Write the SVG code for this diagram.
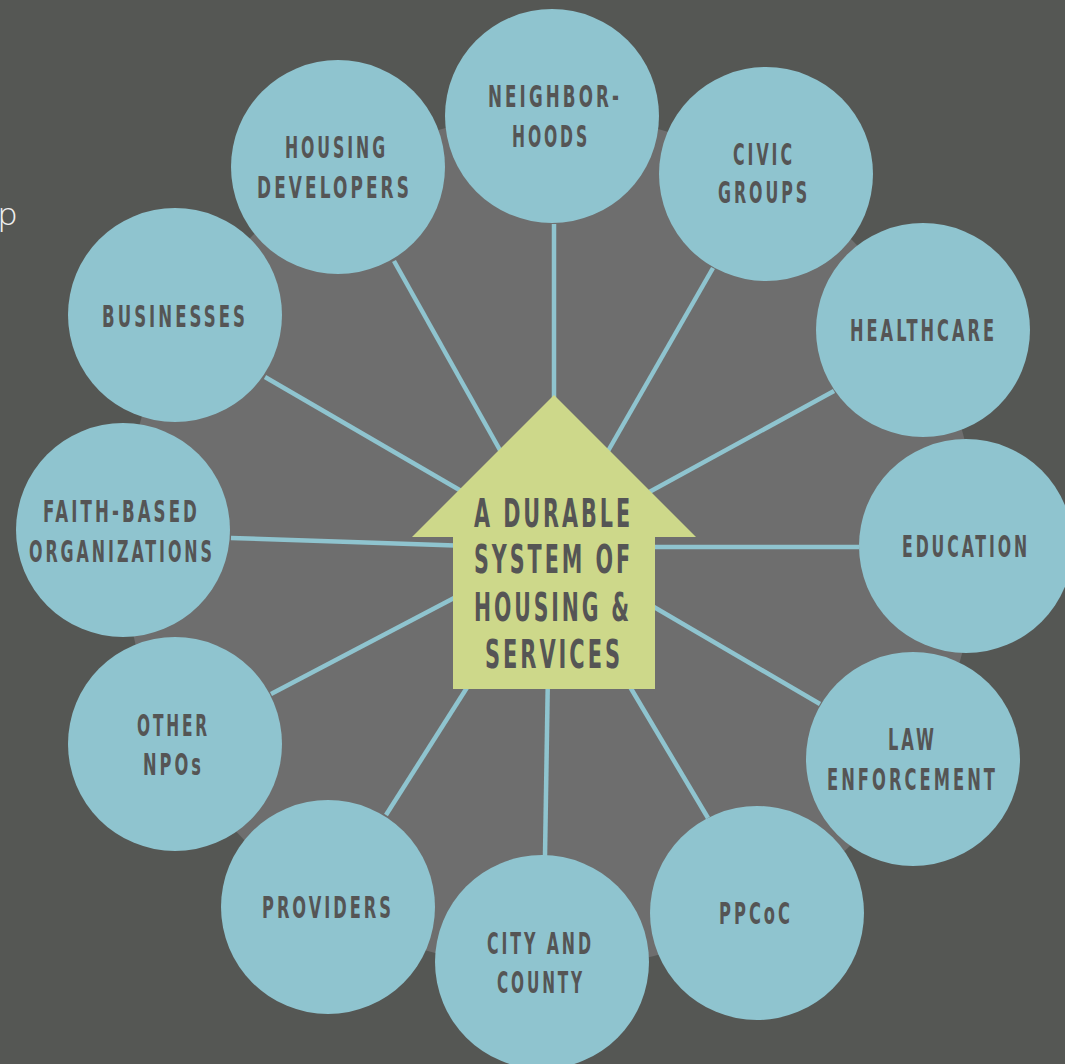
<svg xmlns="http://www.w3.org/2000/svg" width="1065" height="1064" viewBox="0 0 1065 1064">
<style>
.node circle{fill:#8fc4cf}
.lbl{font-family:"DejaVu Sans Condensed","DejaVu Sans",sans-serif;font-weight:bold;font-size:30px;letter-spacing:5px;fill:#555555;text-anchor:middle}
.hlbl{font-family:"DejaVu Sans Condensed","DejaVu Sans",sans-serif;font-weight:bold;font-size:39px;letter-spacing:5px;fill:#555555;text-anchor:middle}
#connectors line{stroke:#8fc4cf;stroke-width:4.5;stroke-linecap:butt}
</style>
<rect width="1065" height="1064" fill="#555754"/>
<circle cx="550" cy="542" r="427" fill="#6e6e6e"/>
<text x="-2" y="225" font-family="'Open Sans','DejaVu Sans',sans-serif" font-weight="300" font-size="32" fill="#eeeeee">p</text>
<g id="connectors">
<line x1="554" y1="224" x2="554" y2="420"/>
<line x1="713" y1="268" x2="600" y2="465"/>
<line x1="834" y1="391" x2="620" y2="508"/>
<line x1="859" y1="547" x2="630" y2="547"/>
<line x1="820" y1="704" x2="630" y2="593"/>
<line x1="708" y1="818" x2="620" y2="670"/>
<line x1="545" y1="856" x2="548" y2="670"/>
<line x1="386" y1="815" x2="475" y2="675"/>
<line x1="271" y1="694" x2="475" y2="587"/>
<line x1="231" y1="538" x2="470" y2="546"/>
<line x1="265" y1="377" x2="475" y2="499"/>
<line x1="394" y1="261" x2="510" y2="468"/>
</g>
<g id="node-neighborhoods" class="node"><circle cx="552" cy="116" r="107"/>
<text class="lbl" transform="scale(0.68 1)" x="816.18" y="107" textLength="197.06" lengthAdjust="spacingAndGlyphs">NEIGHBOR-</text>
<text class="lbl" transform="scale(0.68 1)" x="810.29" y="147" textLength="114.71" lengthAdjust="spacingAndGlyphs">HOODS</text></g>
<g id="node-civic-groups" class="node"><circle cx="766" cy="174" r="107"/>
<text class="lbl" transform="scale(0.68 1)" x="1123.53" y="165" textLength="91.18" lengthAdjust="spacingAndGlyphs">CIVIC</text>
<text class="lbl" transform="scale(0.68 1)" x="1123.53" y="203" textLength="135.29" lengthAdjust="spacingAndGlyphs">GROUPS</text></g>
<g id="node-healthcare" class="node"><circle cx="923" cy="330" r="107"/>
<text class="lbl" transform="scale(0.68 1)" x="1358.09" y="341" textLength="216.18" lengthAdjust="spacingAndGlyphs">HEALTHCARE</text></g>
<g id="node-education" class="node"><circle cx="966" cy="546" r="107"/>
<text class="lbl" transform="scale(0.68 1)" x="1420.59" y="557" textLength="188.24" lengthAdjust="spacingAndGlyphs">EDUCATION</text></g>
<g id="node-law-enforcement" class="node"><circle cx="913" cy="759" r="107"/>
<text class="lbl" transform="scale(0.68 1)" x="1341.91" y="750" textLength="72.06" lengthAdjust="spacingAndGlyphs">LAW</text>
<text class="lbl" transform="scale(0.68 1)" x="1341.91" y="790" textLength="251.47" lengthAdjust="spacingAndGlyphs">ENFORCEMENT</text></g>
<g id="node-ppcoc" class="node"><circle cx="757" cy="913" r="107"/>
<text class="lbl" transform="scale(0.68 1)" x="1111.76" y="924" textLength="108.82" lengthAdjust="spacingAndGlyphs">PPCoC</text></g>
<g id="node-city-county" class="node"><circle cx="542" cy="962" r="107"/>
<text class="lbl" transform="scale(0.68 1)" x="794.85" y="954" textLength="157.35" lengthAdjust="spacingAndGlyphs">CITY AND</text>
<text class="lbl" transform="scale(0.68 1)" x="795.59" y="993" textLength="129.41" lengthAdjust="spacingAndGlyphs">COUNTY</text></g>
<g id="node-providers" class="node"><circle cx="328" cy="907" r="107"/>
<text class="lbl" transform="scale(0.68 1)" x="482.35" y="918" textLength="194.12" lengthAdjust="spacingAndGlyphs">PROVIDERS</text></g>
<g id="node-other-npos" class="node"><circle cx="175" cy="744" r="107"/>
<text class="lbl" transform="scale(0.68 1)" x="255.15" y="736" textLength="107.35" lengthAdjust="spacingAndGlyphs">OTHER</text>
<text class="lbl" transform="scale(0.68 1)" x="255.15" y="775" textLength="89.71" lengthAdjust="spacingAndGlyphs">NPOs</text></g>
<g id="node-faith-based" class="node"><circle cx="123" cy="530" r="107"/>
<text class="lbl" transform="scale(0.68 1)" x="178.68" y="522" textLength="230.88" lengthAdjust="spacingAndGlyphs">FAITH-BASED</text>
<text class="lbl" transform="scale(0.68 1)" x="179.41" y="562" textLength="273.53" lengthAdjust="spacingAndGlyphs">ORGANIZATIONS</text></g>
<g id="node-businesses" class="node"><circle cx="175" cy="315" r="107"/>
<text class="lbl" transform="scale(0.68 1)" x="257.35" y="327" textLength="214.71" lengthAdjust="spacingAndGlyphs">BUSINESSES</text></g>
<g id="node-housing-developers" class="node"><circle cx="338" cy="167" r="107"/>
<text class="lbl" transform="scale(0.68 1)" x="494.85" y="158" textLength="151.47" lengthAdjust="spacingAndGlyphs">HOUSING</text>
<text class="lbl" transform="scale(0.68 1)" x="491.91" y="198" textLength="227.94" lengthAdjust="spacingAndGlyphs">DEVELOPERS</text></g>
<g id="node-center">
<polygon points="554,395 696,537 655,537 655,689 453,689 453,537 412,537" fill="#cdd88a"/>
<text class="hlbl" x="553.5" y="527" textLength="159" lengthAdjust="spacingAndGlyphs">A DURABLE</text>
<text class="hlbl" x="553.5" y="573" textLength="159" lengthAdjust="spacingAndGlyphs">SYSTEM OF</text>
<text class="hlbl" x="553" y="621" textLength="158" lengthAdjust="spacingAndGlyphs">HOUSING &amp;</text>
<text class="hlbl" x="554" y="668" textLength="138" lengthAdjust="spacingAndGlyphs">SERVICES</text>
</g>
</svg>
